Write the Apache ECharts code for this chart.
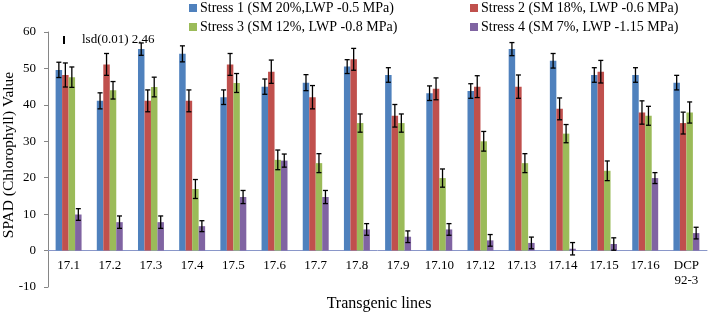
<!DOCTYPE html>
<html>
<head>
<meta charset="utf-8">
<script src="https://cdn.jsdelivr.net/npm/echarts@6/dist/echarts.min.js"></script>
<style>
  html, body { margin: 0; padding: 0; background: #fff; }
  #chart { width: 709px; height: 316px; }
</style>
</head>
<body>
<div id="chart"></div>
<script>
var lines = ['17.1', '17.2', '17.3', '17.4', '17.5', '17.6', '17.7', '17.8', '17.9', '17.10', '17.12', '17.13', '17.14', '17.15', '17.16', 'DCP\n92-3']
var names = [
  'Stress 1 (SM 20%,LWP -0.5 MPa)',
  'Stress 2 (SM 18%, LWP -0.6 MPa)',
  'Stress 3 (SM 12%, LWP -0.8 MPa)',
  'Stress 4 (SM 7%, LWP -1.15 MPa)'
]
var stress1 = [49.6, 41.1, 55.3, 54.0, 42.1, 45.0, 46.1, 50.5, 48.2, 43.2, 43.8, 55.3, 52.1, 48.2, 48.2, 46.1]
var stress2 = [48.2, 51.1, 41.1, 41.1, 51.1, 49.1, 42.1, 52.5, 37.0, 44.4, 45.0, 45.0, 38.9, 49.1, 37.9, 35.0]
var stress3 = [47.6, 44.0, 44.9, 16.9, 46.0, 24.9, 24.0, 35.0, 35.0, 19.9, 30.0, 24.0, 32.1, 21.9, 37.0, 37.9]
var stress4 = [9.9, 7.8, 7.8, 6.7, 14.7, 24.7, 14.7, 5.8, 3.8, 5.8, 2.8, 2.1, 0.5, 1.8, 19.9, 4.8]
var err1 = [2.1, 2.2, 1.7, 2.2, 2.0, 2.1, 2.2, 1.9, 2.0, 2.0, 2.0, 1.8, 2.0, 2.0, 2.0, 2.0]
var err2 = [3.3, 3.0, 3.0, 3.0, 3.0, 3.2, 3.2, 3.0, 3.1, 3.0, 3.0, 3.2, 3.0, 3.1, 3.2, 3.0]
var err3 = [2.8, 2.4, 2.7, 2.6, 2.6, 2.7, 2.6, 2.5, 2.5, 2.5, 2.7, 2.6, 2.5, 2.7, 2.6, 2.9]
var err4 = [1.6, 1.7, 1.7, 1.5, 1.8, 1.8, 1.8, 1.6, 1.6, 1.6, 1.6, 1.6, 1.7, 1.7, 1.5, 1.6]
var yTicks = { min: -10, max: 60, interval: 10 }

var colors = ['#4F81BD', '#C0504D', '#9BBB59', '#8064A2']
var font = '"Liberation Serif", "Times New Roman", serif'
var gapRatio = 0.37

var values = [stress1, stress2, stress3, stress4]
var errors = [err1, err2, err3, err4]

function errorSeries(k) {
  return {
    type: 'custom',
    z: 5,
    silent: true,
    data: values[k].map(function (v, i) { return [i, v, errors[k][i]] }),
    encode: { x: 0, y: 1 },
    renderItem: function (params, api) {
      var band = api.size([1, 0])[0]
      var total = band * (1 - gapRatio)
      var bw = total / 4
      var c = api.coord([api.value(0), api.value(1)])
      var x = c[0] - total / 2 + bw * (k + 0.5)
      var hi = api.coord([api.value(0), api.value(1) + api.value(2)])[1]
      var lo = api.coord([api.value(0), api.value(1) - api.value(2)])[1]
      var cap = 2.5
      var style = { stroke: '#000', lineWidth: 1.3 }
      return {
        type: 'group',
        children: [
          { type: 'line', shape: { x1: x, y1: hi, x2: x, y2: lo }, style: style },
          { type: 'line', shape: { x1: x - cap, y1: hi, x2: x + cap, y2: hi }, style: style },
          { type: 'line', shape: { x1: x - cap, y1: lo, x2: x + cap, y2: lo }, style: style }
        ]
      }
    }
  }
}

var myChart = echarts.init(document.getElementById('chart'))
var series = []
values.forEach(function (arr, k) {
  series.push({
    name: names[k],
    type: 'bar',
    data: arr,
    barGap: 0,
    barCategoryGap: (gapRatio * 100) + '%',
    itemStyle: { color: colors[k] }
  })
})
values.forEach(function (arr, k) {
  series.push(errorSeries(k))
})

var legendText = { fontFamily: font, fontSize: 14, color: '#000', padding: [0, 0, 0, -2] }
var option = {
  animation: false,
  grid: { left: 48, right: 2, top: 32, bottom: 29, outerBoundsMode: 'none' },
  legend: [
    {
      data: [names[0], names[2]],
      orient: 'vertical',
      left: 189, top: 1,
      padding: 0,
      itemWidth: 8, itemHeight: 8, itemGap: 5,
      icon: 'rect',
      textStyle: legendText
    },
    {
      data: [names[1], names[3]],
      orient: 'vertical',
      left: 470, top: 1,
      padding: 0,
      itemWidth: 8, itemHeight: 8, itemGap: 5,
      icon: 'rect',
      textStyle: legendText
    }
  ],
  xAxis: {
    type: 'category',
    data: lines,
    axisLine: { onZero: true, lineStyle: { color: '#8A97C9', width: 1 } },
    axisTick: { show: false },
    axisLabel: { fontFamily: font, fontSize: 13, color: '#000', margin: -29, interval: 0, lineHeight: 15 }
  },
  yAxis: {
    type: 'value',
    min: yTicks.min,
    max: yTicks.max,
    interval: yTicks.interval,
    axisLine: { show: true, lineStyle: { color: '#868686' } },
    axisTick: { show: true, length: 4, lineStyle: { color: '#868686' } },
    splitLine: { show: false },
    axisLabel: { fontFamily: font, fontSize: 13, color: '#000', margin: 12 }
  },
  graphic: [
    // axis titles
    {
      type: 'text', x: 9, y: 155, rotation: Math.PI / 2,
      style: { text: 'SPAD (Chlorophyll) Value', font: '15.5px ' + font, fill: '#000', align: 'center', verticalAlign: 'middle' }
    },
    {
      type: 'text', x: 379, y: 304,
      style: { text: 'Transgenic lines', font: '16px ' + font, fill: '#000', align: 'center', verticalAlign: 'middle' }
    },
    // lsd note
    { type: 'line', shape: { x1: 64, y1: 36, x2: 64, y2: 44 }, style: { stroke: '#000', lineWidth: 2 } },
    { type: 'text', left: 82, top: 33, style: { text: 'lsd(0.01) 2.46', font: '13px ' + font, fill: '#000' } }
  ],
  series: series
}

option && myChart.setOption(option)
window.addEventListener('resize', function () {
  myChart.resize()
})
</script>
</body>
</html>
